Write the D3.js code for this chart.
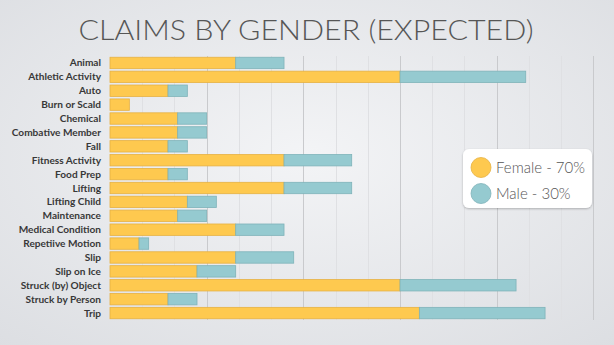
<!DOCTYPE html>
<html>
<head>
<meta charset="utf-8">
<script src="https://cdn.jsdelivr.net/npm/d3@7"></script>
<style>
  html, body { margin: 0; padding: 0; overflow: hidden; }
  svg { display: block; }
</style>
</head>
<body>
<svg id="chart" width="614" height="345"></svg>
<script>
// chart data (expected claims, 70/30 split)
var categories = ["Animal", "Athletic Activity", "Auto", "Burn or Scald", "Chemical",
                  "Combative Member", "Fall", "Fitness Activity", "Food Prep", "Lifting",
                  "Lifting Child", "Maintenance", "Medical Condition", "Repetiive Motion",
                  "Slip", "Slip on Ice", "Struck (by) Object", "Struck by Person", "Trip"];
var female = [13, 30, 6, 2, 7, 7, 6, 18, 6, 18, 8, 7, 13, 3, 13, 9, 30, 6, 32];
var male   = [5, 13, 2, 0, 3, 3, 2, 7, 2, 7, 3, 3, 5, 1, 6, 4, 12, 3, 13];
var seriesNames = ["Female - 70%", "Male - 30%"];
var xMax = 50;

var colors = ["#fec94f", "#95cad0"];
var strokes = ["#e6b142", "#7fb3b9"];

var svg = d3.select("#chart");
var W = 614, H = 345;

// background gradient
var defs = svg.append("defs");
var bg = defs.append("radialGradient").attr("id", "bg")
  .attr("cx", "50%").attr("cy", "45%").attr("r", "75%");
bg.append("stop").attr("offset", "0%").attr("stop-color", "#f3f4f6");
bg.append("stop").attr("offset", "100%").attr("stop-color", "#dcdee2");

var shadow = defs.append("filter").attr("id", "shadow")
  .attr("x", "-10%").attr("y", "-10%").attr("width", "120%").attr("height", "130%");
shadow.append("feDropShadow").attr("dx", 0).attr("dy", 1).attr("stdDeviation", 1.2)
  .attr("flood-color", "#000").attr("flood-opacity", 0.25);

svg.append("rect").attr("width", W).attr("height", H).attr("fill", "url(#bg)");

// title
svg.append("text")
  .attr("x", 306).attr("y", 40)
  .attr("text-anchor", "middle")
  .attr("font-family", "Lato, sans-serif")
  .attr("font-weight", 300)
  .attr("font-size", 28)
  .attr("textLength", 455)
  .attr("lengthAdjust", "spacingAndGlyphs")
  .attr("fill", "#565656")
  .text("CLAIMS BY GENDER (EXPECTED)");

var plotLeft = 110, plotRight = 593.4, plotTop = 56, plotBottom = 320;

var x = d3.scaleLinear().domain([0, xMax]).range([plotLeft, plotRight]);
var y = d3.scaleBand().domain(categories).range([plotTop, plotBottom])
  .paddingInner(0.18).paddingOuter(0.09);

// minor gridlines
var minor = d3.range(1, 15).map(function(i){ return i * xMax / 15; })
  .filter(function(v){ return v % 10 > 0.01; });
svg.append("g").selectAll("line").data(minor).enter().append("line")
  .attr("x1", function(d){ return Math.round(x(d)) + 0.5; })
  .attr("x2", function(d){ return Math.round(x(d)) + 0.5; })
  .attr("y1", plotTop).attr("y2", plotBottom)
  .attr("stroke", "#dfe0e3").attr("stroke-width", 1);

// major gridlines
svg.append("g").selectAll("line").data(x.ticks(5).filter(function(d){ return d > 0; }))
  .enter().append("line")
  .attr("x1", function(d){ return Math.round(x(d)) + 0.5; })
  .attr("x2", function(d){ return Math.round(x(d)) + 0.5; })
  .attr("y1", plotTop).attr("y2", plotBottom)
  .attr("stroke", "#c9cacd").attr("stroke-width", 1);

// stacked bars
var rows = categories.map(function(c, i){
  return { cat: c, f: female[i], m: male[i] };
});

var g = svg.append("g");
g.selectAll("rect.f").data(rows).enter().append("rect")
  .attr("class", "f")
  .attr("x", x(0))
  .attr("y", function(d){ return y(d.cat); })
  .attr("width", function(d){ return x(d.f) - x(0); })
  .attr("height", y.bandwidth())
  .attr("fill", colors[0]).attr("stroke", strokes[0]).attr("stroke-width", 0.8);

g.selectAll("rect.m").data(rows.filter(function(d){ return d.m > 0; })).enter().append("rect")
  .attr("class", "m")
  .attr("x", function(d){ return x(d.f); })
  .attr("y", function(d){ return y(d.cat); })
  .attr("width", function(d){ return x(d.f + d.m) - x(d.f); })
  .attr("height", y.bandwidth())
  .attr("fill", colors[1]).attr("stroke", strokes[1]).attr("stroke-width", 0.8);

// category labels
svg.append("g").selectAll("text").data(categories).enter().append("text")
  .attr("x", 101)
  .attr("y", function(d){ return y(d) + y.bandwidth() / 2; })
  .attr("dy", "0.35em")
  .attr("text-anchor", "end")
  .attr("font-family", "Lato, sans-serif")
  .attr("font-weight", 700)
  .attr("font-size", 10.1)
  .attr("fill", "#383838")
  .text(function(d){ return d; });

// legend
var lg = svg.append("g").attr("transform", "translate(463,149)");
lg.append("rect").attr("width", 129).attr("height", 59).attr("rx", 6)
  .attr("fill", "#fff").attr("filter", "url(#shadow)");
var items = lg.selectAll("g.item").data(seriesNames).enter().append("g")
  .attr("transform", function(d, i){ return "translate(18," + (18.5 + i * 26) + ")"; });
items.append("circle").attr("r", 10)
  .attr("fill", function(d, i){ return colors[i]; })
  .attr("stroke", function(d, i){ return strokes[i]; }).attr("stroke-width", 0.8);
items.append("text").attr("x", 15).attr("dy", "0.35em")
  .attr("font-family", "Lato, sans-serif").attr("font-weight", 300)
  .attr("font-size", 15).attr("fill", "#555")
  .text(function(d){ return d; });
</script>
</body>
</html>
